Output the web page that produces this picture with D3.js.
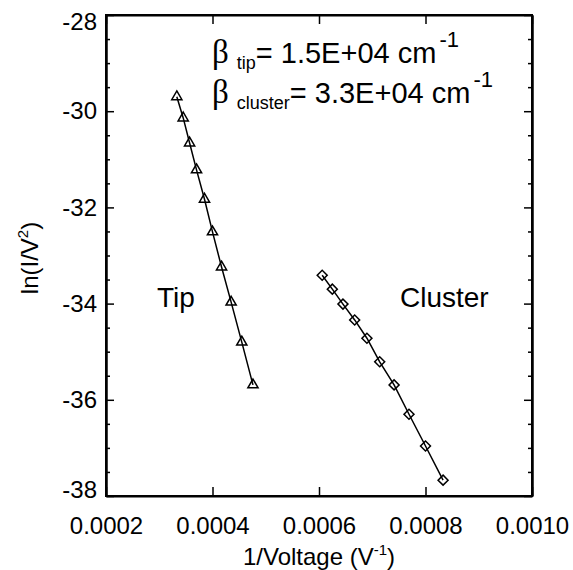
<!DOCTYPE html>
<html>
<head>
<meta charset="utf-8">
<script src="https://cdn.jsdelivr.net/npm/d3@7"></script>
<style>
body { margin: 0; background: #fff; }
text { font-family: "Liberation Sans", Arial, sans-serif; fill: #000; }
</style>
</head>
<body>
<script>
// tip emitter points (1/V, ln(I/V^2))
var tipX = [0.000333, 0.000345, 0.000357, 0.000370, 0.000385, 0.000400, 0.000417, 0.000435, 0.000455, 0.000476];
var tipY = [-29.70, -30.14, -30.66, -31.22, -31.83, -32.51, -33.24, -33.97, -34.80, -35.69];
// cluster points
var clusterX = [0.000606, 0.000625, 0.000645, 0.000667, 0.000690, 0.000714, 0.000741, 0.000769, 0.000800, 0.000833];
var clusterY = [-33.41, -33.70, -34.01, -34.34, -34.72, -35.21, -35.69, -36.30, -36.96, -37.67];

var xTicks = [0.0002, 0.0004, 0.0006, 0.0008, 0.0010];
var xTickLabels = ["0.0002", "0.0004", "0.0006", "0.0008", "0.0010"];
var yTicks = [-38, -36, -34, -32, -30, -28];
var yMinor = [-37.5, -37, -36.5, -35.5, -35, -34.5, -33.5, -33, -32.5, -31.5, -31, -30.5, -29.5, -29, -28.5];

var margin = {top: 15, right: 41, bottom: 74, left: 106}
, width = 573 - margin.left - margin.right
, height = 570 - margin.top - margin.bottom;

var x = d3.scaleLinear().domain([0.0002, 0.0010]).range([0, width]);
var y = d3.scaleLinear().domain([-38, -28]).range([height, 0]);

var svg = d3.select('body').append('svg')
    .attr('width', 573)
    .attr('height', 570);

var main = svg.append('g')
    .attr('transform', 'translate(' + margin.left + ',' + margin.top + ')');

// minor y ticks, left and right
main.append('g').call(d3.axisLeft(y).tickValues(yMinor).tickSizeInner(-4).tickSizeOuter(0).tickFormat(''));
main.append('g').attr('transform', 'translate(' + width + ',0)')
    .call(d3.axisRight(y).tickValues(yMinor).tickSizeInner(-4).tickSizeOuter(0).tickFormat(''));

var yAxis = main.append('g').attr('class', 'axis')
    .call(d3.axisLeft(y).tickValues(yTicks).tickSizeInner(-8).tickSizeOuter(0).tickPadding(9)
        .tickFormat(function(d) { return String(d); }));
main.append('g').attr('transform', 'translate(' + width + ',0)')
    .call(d3.axisRight(y).tickValues(yTicks).tickSizeInner(-8).tickSizeOuter(0).tickFormat(''));

var xAxis = main.append('g').attr('class', 'axis')
    .attr('transform', 'translate(0,' + height + ')')
    .call(d3.axisBottom(x).tickValues(xTicks).tickSizeInner(-9).tickSizeOuter(0).tickPadding(21)
        .tickFormat(function(d, i) { return xTickLabels[i]; }));
main.append('g')
    .call(d3.axisTop(x).tickValues(xTicks).tickSizeInner(-9).tickSizeOuter(0).tickFormat(''));

main.selectAll('.domain').attr('stroke', '#000').attr('stroke-width', 2);
main.selectAll('.tick line').attr('stroke', '#000').attr('stroke-width', 1.5);
main.selectAll('.axis text').style('font-size', '24px').style('font-family', '"Liberation Sans", Arial, sans-serif').attr('fill', '#000');
// keep end labels inside the frame height like the original
yAxis.selectAll('.tick text').attr('dy', function(d) { return d === -28 ? '0.62em' : (d === -38 ? '0.05em' : '0.32em'); });

// frame
main.append('rect').attr('width', width).attr('height', height)
    .attr('fill', 'none').attr('stroke', '#000').attr('stroke-width', 2);

var line = d3.line()
    .x(function(d) { return x(d[0]); })
    .y(function(d) { return y(d[1]); });

var tip = tipX.map(function(v, i) { return [v, tipY[i]]; });
var cluster = clusterX.map(function(v, i) { return [v, clusterY[i]]; });

main.append('path').datum(tip).attr('d', line)
    .attr('fill', 'none').attr('stroke', '#000').attr('stroke-width', 1.5);
main.append('path').datum(cluster).attr('d', line)
    .attr('fill', 'none').attr('stroke', '#000').attr('stroke-width', 1.5);

main.selectAll('.tri').data(tip).enter().append('path')
    .attr('d', d3.symbol().type(d3.symbolTriangle).size(45))
    .attr('transform', function(d) { return 'translate(' + x(d[0]) + ',' + y(d[1]) + ')'; })
    .attr('fill', 'none').attr('stroke', '#000').attr('stroke-width', 1.5);

main.selectAll('.dia').data(cluster).enter().append('path')
    .attr('d', d3.symbol().type(d3.symbolSquare).size(50))
    .attr('transform', function(d) { return 'translate(' + x(d[0]) + ',' + y(d[1]) + ') rotate(45)'; })
    .attr('fill', 'none').attr('stroke', '#000').attr('stroke-width', 1.5);

// labels
svg.append('text').attr('x', 157).attr('y', 307).style('font-size', '28px').text('Tip');
svg.append('text').attr('x', 400).attr('y', 307).style('font-size', '28px').text('Cluster');

function beta(yb, sub, rest) {
    var t = svg.append('text').attr('x', 212).attr('y', yb).style('font-size', '29px');
    t.append('tspan').style('font-family', '"Liberation Serif", serif').style('font-size', '33px').text('\u03b2');
    t.append('tspan').attr('dx', 8).attr('dy', 6).style('font-size', '18px').text(sub);
    t.append('tspan').attr('dy', -6).text(rest);
    t.append('tspan').attr('dx', 3).attr('dy', -16).style('font-size', '22px').text('-1');
}
beta(63, 'tip', '= 1.5E+04 cm');
beta(103, 'cluster', '= 3.3E+04 cm');

// axis titles
var xt = svg.append('text').attr('x', 319).attr('y', 565).attr('text-anchor', 'middle').style('font-size', '24px');
xt.append('tspan').text('1/Voltage (V');
xt.append('tspan').attr('dy', -10).style('font-size', '15px').text('-1');
xt.append('tspan').attr('dy', 10).text(')');

var yt = svg.append('text').attr('transform', 'translate(38,258) rotate(-90)').attr('text-anchor', 'middle').style('font-size', '24px');
yt.append('tspan').text('ln(I/V');
yt.append('tspan').attr('dy', -10).style('font-size', '15px').text('2');
yt.append('tspan').attr('dy', 10).text(')');
</script>
</body>
</html>
